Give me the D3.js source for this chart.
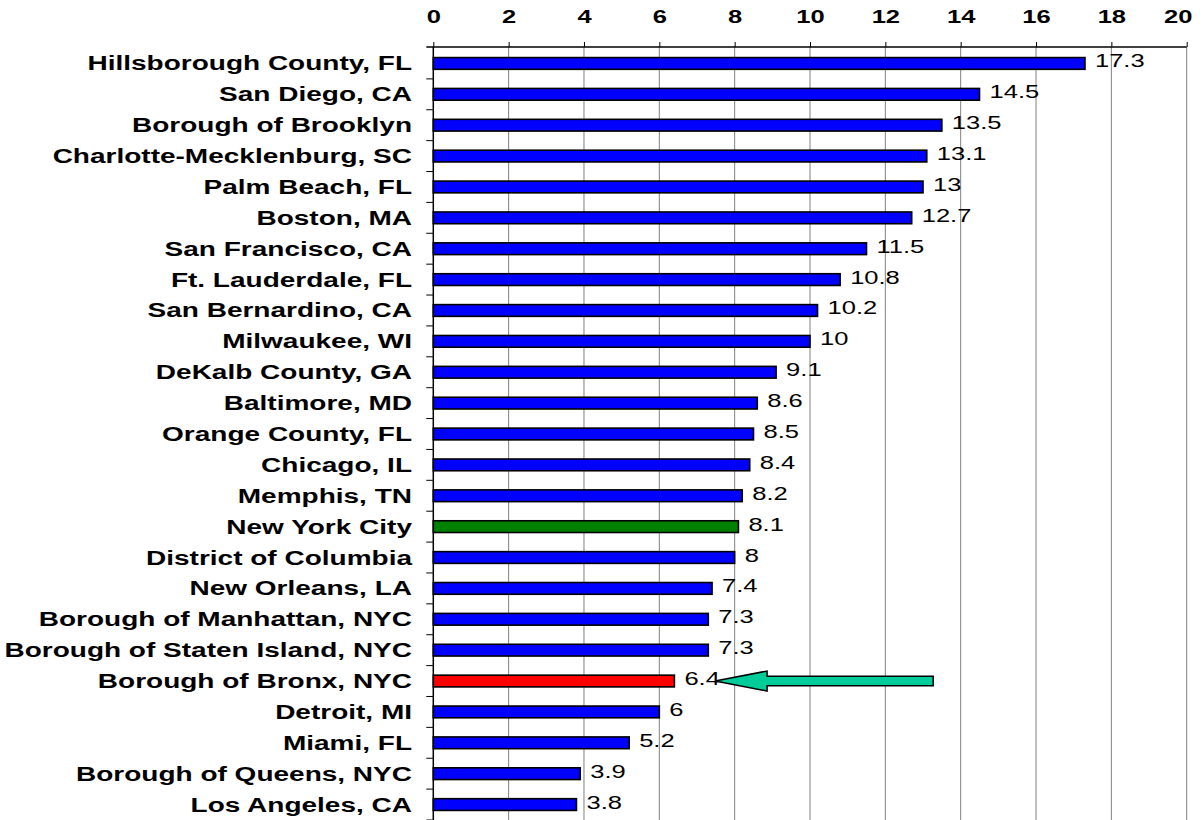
<!DOCTYPE html>
<html>
<head>
<meta charset="utf-8">
<script src="https://cdn.jsdelivr.net/npm/d3@7"></script>
<style>
  html, body { margin: 0; padding: 0; background: #ffffff; }
  svg { display: block; }
</style>
</head>
<body>
<div id="chart"></div>
<script>
// ---- Data ----
const categories = [
  "Hillsborough County, FL",
  "San Diego, CA",
  "Borough of Brooklyn",
  "Charlotte-Mecklenburg, SC",
  "Palm Beach, FL",
  "Boston, MA",
  "San Francisco, CA",
  "Ft. Lauderdale, FL",
  "San Bernardino, CA",
  "Milwaukee, WI",
  "DeKalb County, GA",
  "Baltimore, MD",
  "Orange County, FL",
  "Chicago, IL",
  "Memphis, TN",
  "New York City",
  "District of Columbia",
  "New Orleans, LA",
  "Borough of Manhattan, NYC",
  "Borough of Staten Island, NYC",
  "Borough of Bronx, NYC",
  "Detroit, MI",
  "Miami, FL",
  "Borough of Queens, NYC",
  "Los Angeles, CA"
];
const values = [17.3, 14.5, 13.5, 13.1, 13, 12.7, 11.5, 10.8, 10.2, 10, 9.1, 8.6, 8.5, 8.4, 8.2, 8.1, 8, 7.4, 7.3, 7.3, 6.4, 6, 5.2, 3.9, 3.8];
const valueLabels = ["17.3","14.5","13.5","13.1","13","12.7","11.5","10.8","10.2","10","9.1","8.6","8.5","8.4","8.2","8.1","8","7.4","7.3","7.3","6.4","6","5.2","3.9","3.8"];
const xTicks = [0, 2, 4, 6, 8, 10, 12, 14, 16, 18, 20];
const highlightGreen = ["New York City"];
const highlightRed = ["Borough of Bronx, NYC"];
// arrow annotation (data units on x axis), pointing at a category
const arrowCategory = "Borough of Bronx, NYC";
const arrowTail = 13.27;
const arrowTip = 7.48;

// ---- Layout ----
const W = 1204, H = 820;
const mLeft = 433.3, mRight = 1186.7, mTop = 47, mBottom = 820;
const FONT = "'Liberation Sans', Arial, Helvetica, sans-serif";
const STRETCH = 1.38;
const LABEL_STRETCH = 1.40;

const svg = d3.select("#chart").append("svg")
  .attr("width", W).attr("height", H);

const x = d3.scaleLinear().domain([0, 20]).range([mLeft, mRight]);
const y = d3.scaleBand().domain(categories).range([mTop + 1, mBottom]).padding(0);
const step = y.step();
const barH = step * 0.38;

// gridlines
svg.append("g").selectAll("line").data(xTicks.filter(d => d !== 0)).join("line")
  .attr("x1", d => x(d)).attr("x2", d => x(d))
  .attr("y1", mTop).attr("y2", mBottom)
  .attr("stroke", "#808080").attr("stroke-width", 1);

// top axis
const xAxis = d3.axisTop(x).tickValues(xTicks).tickSizeInner(5).tickSizeOuter(0).tickPadding(20);
const gx = svg.append("g").attr("transform", `translate(0,${mTop})`).call(xAxis);
gx.select(".domain").remove();
gx.selectAll(".tick line").attr("stroke", "#000").attr("stroke-width", 1);
const TICK_DY = -24.5;
gx.selectAll(".tick text")
  .attr("font-family", FONT).attr("font-size", "18.5px").attr("font-weight", "bold")
  .attr("fill", "#000")
  .attr("y", null).attr("dy", null)
  .attr("transform", `translate(0,${TICK_DY}) scale(${STRETCH},1)`);
// keep the last label inside the image like the reference
gx.selectAll(".tick").each(function(d) {
  const t = d3.select(this).select("text");
  const w = t.node().getComputedTextLength() * STRETCH;
  const rightEdge = x(d) + w / 2;
  const limit = 1192;
  if (rightEdge > limit) {
    t.attr("transform", `translate(${limit - rightEdge},${TICK_DY}) scale(${STRETCH},1)`);
  }
});
// top axis line
svg.append("line")
  .attr("x1", mLeft - 7).attr("x2", mRight)
  .attr("y1", mTop).attr("y2", mTop)
  .attr("stroke", "#000").attr("stroke-width", 1.5);

// left axis with ticks at band boundaries
const boundaries = categories.map(c => y(c)).concat([y(categories[categories.length - 1]) + step]);
svg.append("g").selectAll("line").data(boundaries.slice(1)).join("line")
  .attr("x1", mLeft - 7).attr("x2", mLeft)
  .attr("y1", d => d).attr("y2", d => d)
  .attr("stroke", "#000").attr("stroke-width", 1);
svg.append("line")
  .attr("x1", mLeft).attr("x2", mLeft)
  .attr("y1", mTop).attr("y2", mBottom)
  .attr("stroke", "#000").attr("stroke-width", 1.5);

// bars
const data = categories.map((c, i) => ({ c, v: values[i], label: valueLabels[i] }));
function barColor(c) {
  if (highlightRed.includes(c)) return "#FF0000";
  if (highlightGreen.includes(c)) return "#008000";
  return "#0000FF";
}
svg.append("g").selectAll("rect").data(data).join("rect")
  .attr("x", x(0))
  .attr("y", d => y(d.c) + (step - barH) / 2)
  .attr("width", d => x(d.v) - x(0))
  .attr("height", barH)
  .attr("fill", d => barColor(d.c))
  .attr("stroke", "#000").attr("stroke-width", 1.6);

// category labels
svg.append("g").selectAll("text").data(data).join("text")
  .attr("transform", d => `translate(412,${y(d.c) + step / 2 + 7}) scale(${LABEL_STRETCH},1)`)
  .attr("text-anchor", "end")
  .attr("font-family", FONT).attr("font-size", "20px").attr("font-weight", "bold")
  .attr("fill", "#000")
  .text(d => d.c);

// value labels
svg.append("g").selectAll("text").data(data).join("text")
  .attr("transform", d => `translate(${x(d.v) + 10},${y(d.c) + step / 2 + 4}) scale(${STRETCH},1)`)
  .attr("text-anchor", "start")
  .attr("font-family", FONT).attr("font-size", "18.5px")
  .attr("fill", "#000")
  .text(d => d.label);

// arrow annotation
const ay = y(arrowCategory) + step / 2;
const xt = x(arrowTip), xs = x(arrowTail);
const headLen = 52, headHalf = 10, bodyHalf = 4.8;
const pts = [
  [xt, ay],
  [xt + headLen, ay - headHalf],
  [xt + headLen, ay - bodyHalf],
  [xs, ay - bodyHalf],
  [xs, ay + bodyHalf],
  [xt + headLen, ay + bodyHalf],
  [xt + headLen, ay + headHalf]
];
svg.append("polygon")
  .attr("points", pts.map(p => p.join(",")).join(" "))
  .attr("fill", "#00CC99")
  .attr("stroke", "#000").attr("stroke-width", 1.5)
  .attr("stroke-linejoin", "miter");
</script>
</body>
</html>
